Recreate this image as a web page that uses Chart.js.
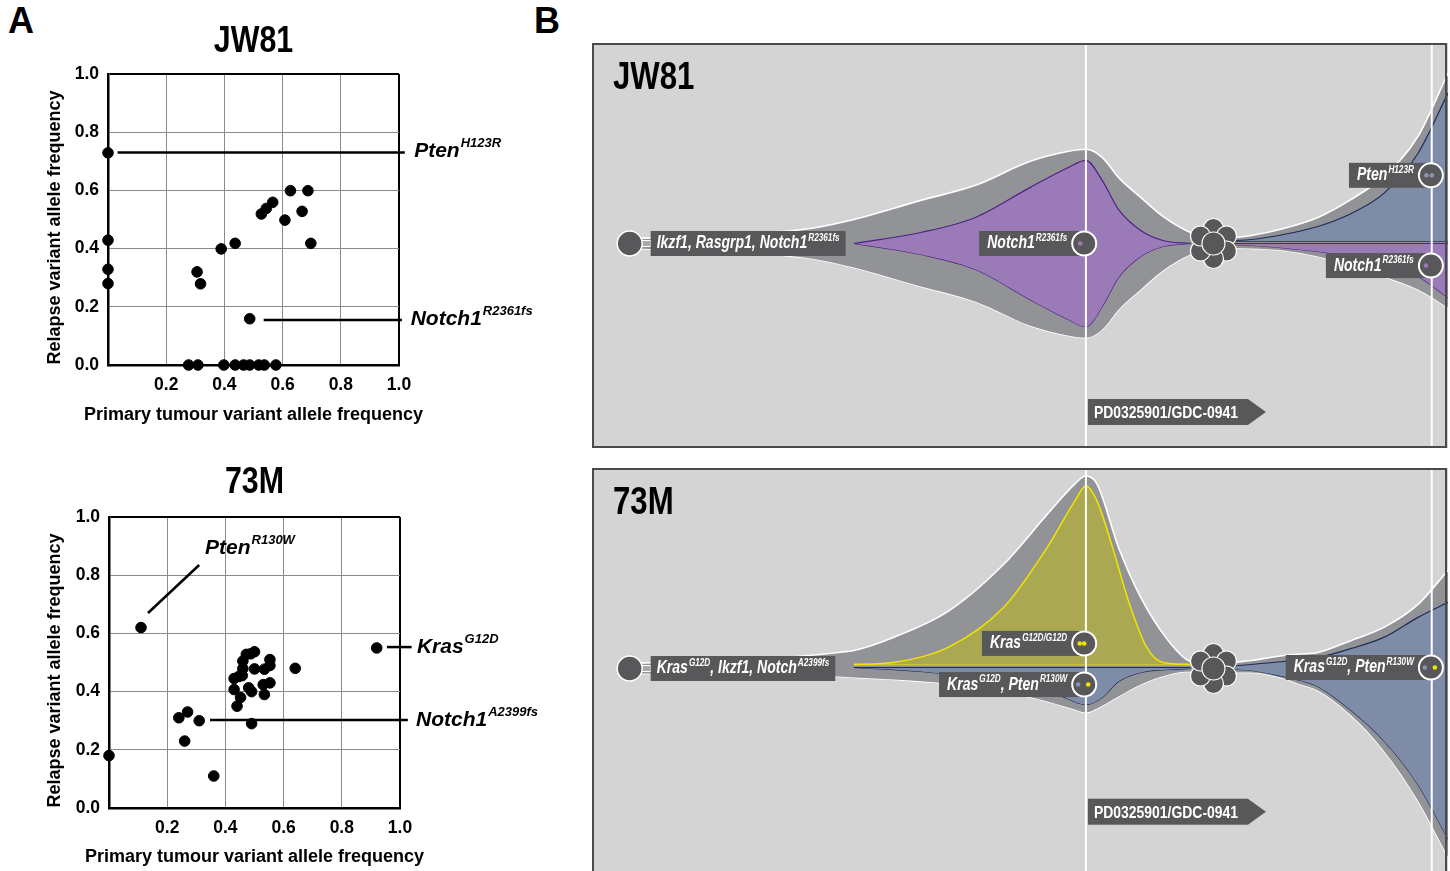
<!DOCTYPE html>
<html>
<head>
<meta charset="utf-8">
<script src="https://cdn.jsdelivr.net/npm/chart.js@4.4.0/dist/chart.umd.min.js"></script>
<style>
body { margin: 0; width: 1450px; height: 871px; overflow: hidden; background: #fff; position: relative; font-family: "Liberation Sans", Arial, sans-serif; }
.box { position: absolute; }
.letter { position: absolute; font: bold 36px "Liberation Sans", Arial, sans-serif; line-height: 1; color: #000; }
</style>
</head>
<body>
<div class="letter" style="left:8px;top:3px">A</div>
<div class="letter" style="left:534px;top:3px">B</div>
<div class="box" style="left:0;top:0"><canvas id="sc1" width="580" height="440"></canvas></div>
<div class="box" style="left:0;top:440px"><canvas id="sc2" width="580" height="431"></canvas></div>
<div class="box" style="left:592px;top:43px"><canvas id="fish1" width="856" height="405"></canvas></div>
<div class="box" style="left:592px;top:468px"><canvas id="fish2" width="856" height="405"></canvas></div>
<script>
// ---------- panel A: variant allele frequencies ----------
const jw81Primary = [0, 0, 0, 0, 0.306, 0.318, 0.389, 0.437, 0.527, 0.544, 0.566, 0.627, 0.608, 0.667, 0.687, 0.697, 0.487,
  0.277, 0.309, 0.398, 0.437, 0.466, 0.487, 0.518, 0.537, 0.577]
const jw81Relapse = [0.729, 0.429, 0.329, 0.28, 0.32, 0.279, 0.399, 0.418, 0.519, 0.538, 0.559, 0.599, 0.498, 0.528, 0.599, 0.418, 0.159,
  0, 0, 0, 0, 0, 0, 0, 0, 0]

const m73Primary = [0.11, 0, 0.24, 0.27, 0.31, 0.26, 0.36, 0.49, 0.64, 0.92,
  0.43, 0.43, 0.44, 0.452, 0.446, 0.46, 0.46, 0.472, 0.50, 0.48, 0.49, 0.50, 0.534, 0.553, 0.553, 0.53, 0.534, 0.553, 0.458, 0.487]
const m73Relapse = [0.62, 0.18, 0.31, 0.33, 0.30, 0.23, 0.11, 0.29, 0.48, 0.55,
  0.445, 0.407, 0.35, 0.38, 0.452, 0.479, 0.505, 0.528, 0.537, 0.413, 0.40, 0.478, 0.477, 0.51, 0.49, 0.424, 0.39, 0.43, 0.455, 0.53]

const jw81Notes = [
  {label: 'Pten^{H123R}', from: [0.033, 0.73], to: [1.02, 0.73], at: [1.052, 0.733]},
  {label: 'Notch1^{R2361fs}', from: [0.535, 0.155], to: [1.01, 0.155], at: [1.04, 0.156]}
]
const m73Notes = [
  {label: 'Pten^{R130W}', from: [0.134, 0.67], to: [0.31, 0.835], at: [0.33, 0.893]},
  {label: 'Kras^{G12D}', from: [0.955, 0.553], to: [1.04, 0.553], at: [1.058, 0.553]},
  {label: 'Notch1^{A2399fs}', from: [0.347, 0.302], to: [1.027, 0.302], at: [1.055, 0.302]}
]

// ---------- panel B: clone fractions over time (arbitrary time units 0-100) ----------
const jwPreT = [5.0, 19.6, 25.5, 30.6, 38.4, 44.8, 51.2, 55.7, 57.7, 59.6, 61.5, 64.1, 66.7, 69.9, 72.6]
const jwPreTop = [0.025, 0.05, 0.075, 0.12, 0.215, 0.29, 0.41, 0.46, 0.47, 0.43, 0.33, 0.23, 0.135, 0.055, 0.02]
const jwPreBottom = [-0.025, -0.05, -0.075, -0.12, -0.215, -0.29, -0.41, -0.46, -0.47, -0.43, -0.33, -0.23, -0.135, -0.055, -0.02]
const jwNotchT = [30.6, 38.4, 44.8, 51.2, 55.7, 57.7, 59.6, 61.5, 64.1, 66.7, 69.9]
const jwNotchTop = [0.0, 0.055, 0.13, 0.28, 0.38, 0.415, 0.315, 0.17, 0.065, 0.015, 0.0]
const jwNotchBottom = [0.0, -0.055, -0.13, -0.28, -0.38, -0.415, -0.315, -0.17, -0.065, -0.015, 0.0]

const jwPostT = [72.6, 77.0, 80.8, 84.8, 88.7, 92.5, 96.5, 100]
const jwPostTop = [0.02, 0.04, 0.075, 0.13, 0.22, 0.335, 0.535, 0.85]
const jwPostBottom = [-0.02, -0.025, -0.035, -0.065, -0.11, -0.165, -0.23, -0.32]
const jwPtenTop = [0.012, 0.02, 0.045, 0.085, 0.15, 0.25, 0.45, 0.75]
const jwPtenBase = [0.012, 0.012, 0.012, 0.012, 0.012, 0.012, 0.012, 0.012]
const jwNotchPostTop = [0, 0, 0, 0, 0, 0, 0, 0]
const jwNotchPostBottom = [0, -0.01, -0.022, -0.04, -0.065, -0.1, -0.165, -0.27]

const mPreT = [5.0, 20.9, 28.8, 30.6, 35.2, 41.6, 48.1, 53.2, 56.4, 57.7, 59.0, 61.5, 64.1, 67.4, 69.9, 72.6]
const mPreTop = [0.025, 0.05, 0.08, 0.09, 0.155, 0.285, 0.52, 0.77, 0.92, 0.96, 0.92, 0.605, 0.355, 0.135, 0.035, 0.02]
const mPreBottom = [-0.025, -0.03, -0.04, -0.045, -0.055, -0.075, -0.115, -0.165, -0.205, -0.22, -0.2, -0.14, -0.08, -0.03, -0.015, -0.02]
const mKrasT = [30.6, 35.2, 41.6, 48.1, 53.2, 56.4, 57.7, 59.0, 60.8, 62.8, 64.8, 66.7, 69.9]
const mKrasTop = [0.02, 0.03, 0.105, 0.305, 0.605, 0.835, 0.91, 0.835, 0.605, 0.32, 0.105, 0.03, 0.02]
const mKrasBase = [0.02, 0.02, 0.02, 0.02, 0.02, 0.02, 0.02, 0.02, 0.02, 0.02, 0.02, 0.02, 0.02]
const mPtenPreT = [30.6, 38.4, 48.1, 54.4, 57.7, 59.6, 61.5, 64.1, 67.4, 69.9]
const mPtenPreTop = [0.005, 0.005, 0.005, 0.005, 0.005, 0.005, 0.005, 0.005, 0.005, 0.005]
const mPtenPreBottom = [0.005, -0.015, -0.065, -0.13, -0.18, -0.145, -0.065, -0.02, -0.005, 0.0]

const mPostT = [72.6, 77.0, 80.8, 82.8, 84.8, 88.7, 92.5, 96.5, 100]
const mPostTop = [0.02, 0.04, 0.065, 0.072, 0.08, 0.14, 0.205, 0.32, 0.49]
const mPostBottom = [-0.02, -0.02, -0.05, -0.08, -0.11, -0.235, -0.41, -0.66, -0.94]
const mPtenTop = [0.005, 0.02, 0.035, 0.045, 0.055, 0.1, 0.155, 0.255, 0.33]
const mPtenBottom = [0.0, -0.01, -0.04, -0.06, -0.09, -0.21, -0.36, -0.58, -0.85]

// colours
const BG = "#d4d4d4"
const ENV = "#929397"
const BOXC = "#58585a"
const PURPLE = "#9b7bb7", PURPLE_LINE = "#4e2286"
const BLUE = "#7f8ca8", NAVY = "#1e2b57"
const OLIVE = "#aaa850", YELLOW = "#f2e400"

const ARIAL = '"Liberation Sans", Arial, sans-serif'
const SQUEEZE = 0.82   // condensed look, the reference uses a narrow face

function pts(t, v){
    return t.map((x, i) => ({x: x, y: v[i]}))
}

function rich_parts(s){
    let out = []
    s.split(/(\^\{[^}]*\})/).forEach(p => {
        if (!p) return
        if (p.startsWith("^{")) out.push({t: p.slice(2, -1), sup: true})
        else out.push({t: p, sup: false})
    })
    return out
}

function rich_width(ctx, s, f){
    let w = 0
    rich_parts(s).forEach(p => {
        ctx.font = p.sup ? f.sup : f.main
        w += ctx.measureText(p.t).width * f.sx + (p.sup ? 1 : 0)
    })
    return w
}

function draw_rich(ctx, s, x, y, f){
    ctx.textBaseline = "middle"
    ctx.textAlign = "left"
    rich_parts(s).forEach(p => {
        ctx.font = p.sup ? f.sup : f.main
        if (p.sup) x += 1
        const w = ctx.measureText(p.t).width * f.sx
        ctx.fillText(p.t, x, p.sup ? y - f.rise : y, w)
        x += w
    })
    return x
}

function draw_text(ctx, s, x, y, font, sx, rot){
    ctx.save()
    ctx.font = font
    ctx.textBaseline = "middle"
    ctx.textAlign = "center"
    ctx.translate(x, y)
    if (rot) ctx.rotate(rot)
    const w = ctx.measureText(s).width * sx
    ctx.fillText(s, 0, 0, w)
    ctx.restore()
}

// ---------- scatter charts ----------
function note_plugin(title, notes, lay){
    const f = {main: "italic bold 21px " + ARIAL, sup: "italic bold 13px " + ARIAL, rise: 8, sx: 1}
    return {
        id: "notes",
        afterDatasetsDraw(chart){
            const ctx = chart.ctx, a = chart.chartArea
            const X = chart.scales.x, Y = chart.scales.y
            ctx.save()
            ctx.strokeStyle = "#000"
            ctx.lineWidth = 2.5
            ctx.fillStyle = "#000"
            notes.forEach(n => {
                ctx.beginPath()
                ctx.moveTo(X.getPixelForValue(n.from[0]), Y.getPixelForValue(n.from[1]))
                ctx.lineTo(X.getPixelForValue(n.to[0]), Y.getPixelForValue(n.to[1]))
                ctx.stroke()
                draw_rich(ctx, n.label, X.getPixelForValue(n.at[0]), Y.getPixelForValue(n.at[1]), f)
            })
            const mid = (a.left + a.right) / 2
            draw_text(ctx, title, mid, lay.titleY, "bold 37px " + ARIAL, SQUEEZE)
            draw_text(ctx, "Primary tumour variant allele frequency", mid, lay.xTitleY, "bold 18px " + ARIAL, 1)
            draw_text(ctx, "Relapse variant allele frequency", 55, (a.top + a.bottom) / 2 + 8, "bold 18px " + ARIAL, 1, -Math.PI / 2)
            ctx.restore()
        }
    }
}

function make_scatter(id, title, xs, ys, notes, lay){
    const tickFont = {family: ARIAL, size: 17.5, weight: "bold"}
    const edge = (v) => Math.abs(v - 1) < 1e-6
    return new Chart(document.getElementById(id), {
        type: "scatter",
        data: {datasets: [{
            data: pts(xs, ys),
            backgroundColor: "#000",
            borderColor: "#000",
            pointRadius: 5.3,
            pointHoverRadius: 5.3,
            clip: false
        }]},
        options: {
            responsive: false,
            animation: false,
            events: [],
            layout: {padding: {left: 0, right: lay.right, top: lay.top, bottom: 0}},
            plugins: {legend: {display: false}, tooltip: {enabled: false}, title: {display: false}},
            scales: {
                x: {
                    type: "linear", min: 0, max: 1,
                    afterFit: (s) => { s.height = lay.xh },
                    ticks: {stepSize: 0.2, color: "#000", font: tickFont, padding: 10, maxRotation: 0,
                        callback: (v) => Math.abs(v) < 1e-6 ? "" : Number(v).toFixed(1)},
                    grid: {drawTicks: false,
                        color: (c) => c.tick && edge(c.tick.value) ? "#000" : "#8a8a8a",
                        lineWidth: (c) => c.tick && edge(c.tick.value) ? 2 : 1},
                    border: {color: "#000", width: 2.5}
                },
                y: {
                    type: "linear", min: 0, max: 1,
                    afterFit: (s) => { s.width = lay.yw },
                    ticks: {stepSize: 0.2, color: "#000", font: tickFont, padding: 9,
                        callback: (v) => Number(v).toFixed(1)},
                    grid: {drawTicks: false,
                        color: (c) => c.tick && edge(c.tick.value) ? "#000" : "#8a8a8a",
                        lineWidth: (c) => c.tick && edge(c.tick.value) ? 2 : 1},
                    border: {color: "#000", width: 2.5}
                }
            }
        },
        plugins: [note_plugin(title, notes, lay)]
    })
}

make_scatter("sc1", "JW81", jw81Primary, jw81Relapse, jw81Notes,
    {right: 181, top: 74, yw: 108, xh: 75, titleY: 42, xTitleY: 415})
make_scatter("sc2", "73M", m73Primary, m73Relapse, m73Notes,
    {right: 180, top: 77, yw: 109, xh: 63, titleY: 43, xTitleY: 417})

// ---------- fish plots ----------
function band(t, top, bottom, fillCol, lineCol, lw, ord){
    return [
        {data: pts(t, top), fill: "+1", backgroundColor: fillCol, borderColor: lineCol, borderWidth: lw,
         order: ord, pointRadius: 0, cubicInterpolationMode: "monotone"},
        {data: pts(t, bottom), fill: false, borderColor: lineCol, borderWidth: lw,
         order: ord, pointRadius: 0, cubicInterpolationMode: "monotone"}
    ]
}

function fish_deco(cfg){
    const lab = {main: "italic bold 18px " + ARIAL, sup: "italic bold 10.5px " + ARIAL, rise: 5.5, sx: 0.78}
    return {
        id: "fishDeco",
        beforeDraw(chart){
            const ctx = chart.ctx
            ctx.save()
            ctx.fillStyle = BG
            ctx.fillRect(0, 0, chart.width, chart.height)
            ctx.restore()
        },
        afterDatasetsDraw(chart){
            const ctx = chart.ctx, a = chart.chartArea
            const X = (v) => chart.scales.x.getPixelForValue(v)
            const Y = (v) => chart.scales.y.getPixelForValue(v)
            ctx.save()

            // sampling time lines
            ctx.strokeStyle = "#fff"
            ctx.lineWidth = 2
            cfg.samples.forEach(t => {
                ctx.beginPath(); ctx.moveTo(X(t), a.top); ctx.lineTo(X(t), a.bottom); ctx.stroke()
            })

            // founder clone
            const fx = X(cfg.founder.t), fy = Y(0)
            const fw = rich_width(ctx, cfg.founder.text, lab)
            const bx = fx + 21
            ctx.fillStyle = "#a9a9ab"; ctx.strokeStyle = "#fff"; ctx.lineWidth = 1
            ctx.fillRect(fx, fy - 3, bx - fx, 6); ctx.strokeRect(fx, fy - 3, bx - fx, 6)
            ctx.fillStyle = BOXC
            ctx.fillRect(bx, fy - 12.5, fw + 12, 25)
            ctx.fillStyle = "#fff"
            draw_rich(ctx, cfg.founder.text, bx + 6, fy, lab)
            ctx.beginPath(); ctx.arc(fx, fy, 12.5, 0, Math.PI * 2)
            ctx.fillStyle = BOXC; ctx.fill()
            ctx.strokeStyle = "#fff"; ctx.lineWidth = 1.5; ctx.stroke()

            // relapse cluster
            const cx = X(cfg.cluster), cy = Y(0)
            const ring = [[0, -15], [13, -7.5], [13, 7.5], [0, 15], [-13, 7.5], [-13, -7.5], [0, 0]]
            ring.forEach((o, i) => {
                ctx.beginPath(); ctx.arc(cx + o[0], cy + o[1], i == 6 ? 11.5 : 10, 0, Math.PI * 2)
                ctx.fillStyle = BOXC; ctx.fill()
                ctx.strokeStyle = "#fff"; ctx.lineWidth = 1.2; ctx.stroke()
            })

            // clone tags at sampling times
            cfg.tags.forEach(g => {
                const px = X(g.t), py = Y(g.v)
                const w = rich_width(ctx, g.text, lab)
                const tx = px - 17 - w
                ctx.fillStyle = BOXC
                ctx.fillRect(tx - 8, py - 12.5, px - tx + 8, 25)
                ctx.fillStyle = "#fff"
                draw_rich(ctx, g.text, tx, py, lab)
                ctx.beginPath(); ctx.arc(px, py, 12, 0, Math.PI * 2)
                ctx.fillStyle = BOXC; ctx.fill()
                ctx.strokeStyle = "#fff"; ctx.lineWidth = 2; ctx.stroke()
                g.dots.forEach(d => {
                    ctx.beginPath(); ctx.arc(px + d[0], py, 2.3, 0, Math.PI * 2)
                    ctx.fillStyle = d[1]; ctx.fill()
                })
            })

            // treatment arrow
            const ax = X(cfg.arrow.t) + 2, ay = Y(cfg.arrow.v)
            ctx.fillStyle = BOXC
            ctx.beginPath()
            ctx.moveTo(ax, ay - 13); ctx.lineTo(ax + 160, ay - 13); ctx.lineTo(ax + 178, ay)
            ctx.lineTo(ax + 160, ay + 13); ctx.lineTo(ax, ay + 13); ctx.closePath(); ctx.fill()
            ctx.fillStyle = "#fff"
            ctx.font = "bold 17px " + ARIAL
            ctx.textBaseline = "middle"; ctx.textAlign = "left"
            ctx.fillText(cfg.arrow.text, ax + 6, ay + 1, ctx.measureText(cfg.arrow.text).width * SQUEEZE)

            // sample name
            ctx.fillStyle = "#000"
            ctx.font = "bold 38px " + ARIAL
            ctx.fillText(cfg.title, 21, 36, ctx.measureText(cfg.title).width * SQUEEZE)
            ctx.restore()
        },
        afterDraw(chart){
            const ctx = chart.ctx
            ctx.save()
            ctx.strokeStyle = "#4a4a4a"
            ctx.lineWidth = 2
            ctx.strokeRect(1, 1, chart.width - 3, chart.height - 2)
            ctx.restore()
        }
    }
}

function make_fish(id, datasets, cfg){
    return new Chart(document.getElementById(id), {
        type: "line",
        data: {datasets: datasets},
        options: {
            responsive: false,
            animation: false,
            events: [],
            layout: {padding: 0},
            plugins: {legend: {display: false}, tooltip: {enabled: false}, title: {display: false}},
            scales: {
                x: {type: "linear", min: 0, max: 100, display: false},
                y: {type: "linear", min: -1.02, max: 1.0, display: false}
            }
        },
        plugins: [fish_deco(cfg)]
    })
}

make_fish("fish1", [].concat(
    band(jwPreT, jwPreTop, jwPreBottom, ENV, "#fff", 1.6, 3),
    band(jwPostT, jwPostTop, jwPostBottom, ENV, "#fff", 1.6, 3),
    band(jwNotchT, jwNotchTop, jwNotchBottom, PURPLE, PURPLE_LINE, 1.2, 1),
    band(jwPostT, jwPtenTop, jwPtenBase, BLUE, NAVY, 1.2, 1),
    band(jwPostT, jwNotchPostTop, jwNotchPostBottom, PURPLE, PURPLE_LINE, 1.2, 1)
), {
    title: "JW81",
    samples: [57.7, 98.1],
    cluster: 72.6,
    founder: {t: 4.4, text: "Ikzf1, Rasgrp1, Notch1^{R2361fs}"},
    tags: [
        {t: 57.5, v: 0, text: "Notch1^{R2361fs}", dots: [[-4, PURPLE]]},
        {t: 98.0, v: 0.34, text: "Pten^{H123R}", dots: [[-4.5, "#8a93ad"], [1, "#8a93ad"]]},
        {t: 98.0, v: -0.11, text: "Notch1^{R2361fs}", dots: [[-5, PURPLE]]}
    ],
    arrow: {t: 57.7, v: -0.84, text: "PD0325901/GDC-0941"}
})

make_fish("fish2", [].concat(
    band(mPreT, mPreTop, mPreBottom, ENV, "#fff", 1.6, 3),
    band(mPostT, mPostTop, mPostBottom, ENV, "#fff", 1.6, 3),
    band(mKrasT, mKrasTop, mKrasBase, OLIVE, YELLOW, 1.5, 1),
    band(mPtenPreT, mPtenPreTop, mPtenPreBottom, BLUE, NAVY, 1.2, 1),
    band(mPostT, mPtenTop, mPtenBottom, BLUE, NAVY, 1.2, 1)
), {
    title: "73M",
    samples: [57.7, 98.1],
    cluster: 72.6,
    founder: {t: 4.4, text: "Kras^{G12D}, Ikzf1, Notch^{A2399fs}"},
    tags: [
        {t: 57.5, v: 0.125, text: "Kras^{G12D/G12D}", dots: [[-4.5, YELLOW], [0, YELLOW]]},
        {t: 57.5, v: -0.08, text: "Kras^{G12D}, Pten^{R130W}", dots: [[-6, "#8a93ad"], [4, YELLOW]]},
        {t: 98.0, v: 0.005, text: "Kras^{G12D}, Pten^{R130W}", dots: [[-6, "#8a93ad"], [4, YELLOW]]}
    ],
    arrow: {t: 57.7, v: -0.715, text: "PD0325901/GDC-0941"}
})
</script>
</body>
</html>
